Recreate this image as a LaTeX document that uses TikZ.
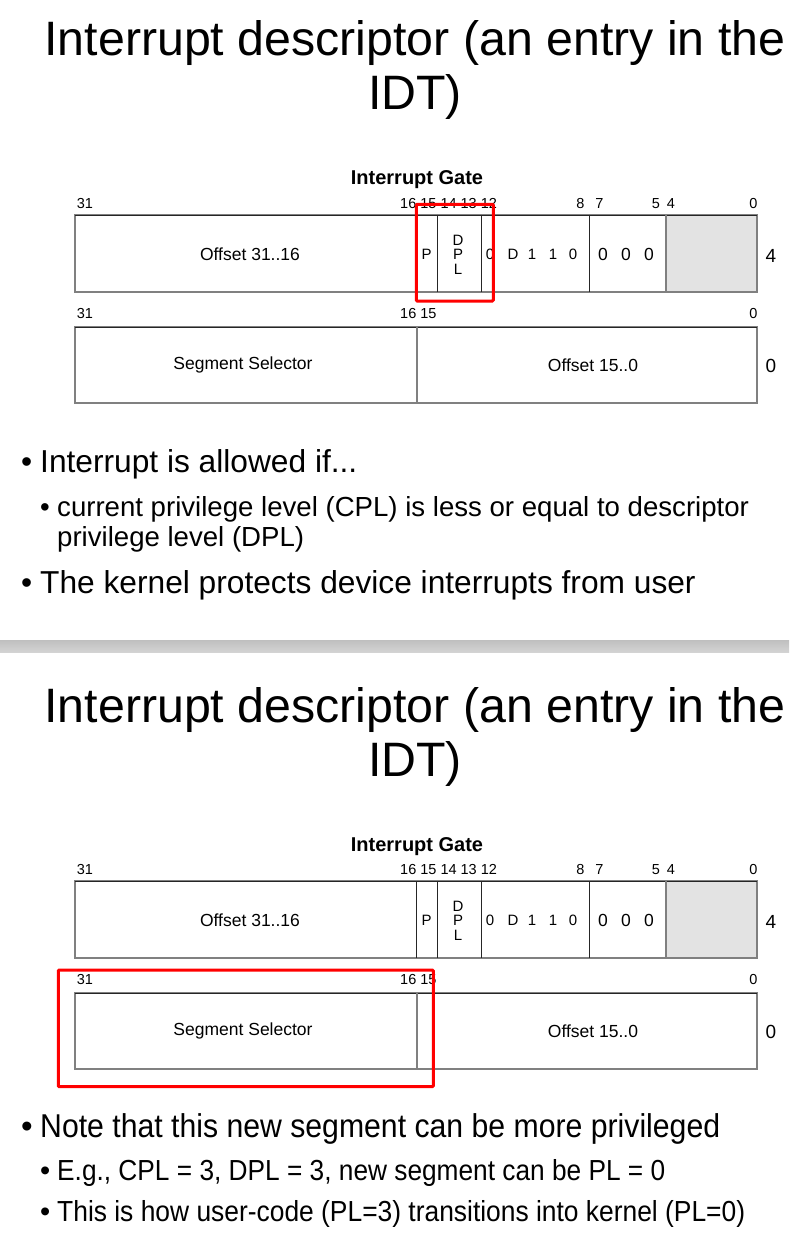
\documentclass[tikz,border=0pt]{standalone}
\usepackage{fontspec}
\setmainfont{Liberation Sans}
\usepackage{graphicx}
\definecolor{hilite}{RGB}{255,0,0}
\definecolor{cellgray}{RGB}{227,227,227}
\definecolor{edgegray}{RGB}{128,128,128}
\tikzset{
  slidetitle/.style={font=\fontsize{48.3}{54}\selectfont, anchor=base, inner sep=0},
  gatetitle/.style={font=\bfseries\fontsize{20}{22}\selectfont, anchor=base, inner sep=0},
  bitnum/.style={font=\fontsize{14.5}{16}\selectfont, anchor=base, inner sep=0},
  bitrun/.style={font=\fontsize{14.5}{16}\selectfont, anchor=base west, inner sep=0},
  field/.style={font=\fontsize{17.5}{19}\selectfont, inner sep=0},
  flagbit/.style={font=\fontsize{15}{17}\selectfont, inner sep=0},
  zerobit/.style={font=\fontsize{17.5}{19}\selectfont, inner sep=0},
  rowidx/.style={font=\fontsize{19}{21}\selectfont, inner sep=0},
  outline/.style={draw=edgegray, line width=1.3pt},
  topedge/.style={draw=black!85, line width=0.9pt},
  thindiv/.style={draw=black!85, line width=0.8pt},
  graydiv/.style={draw=edgegray, line width=1.4pt},
  highlight/.style={draw=hilite, line width=3pt, rounded corners=1pt},
  mainbullet/.style={font=\fontsize{31.7}{36}\selectfont, anchor=base west, inner sep=0},
  subbullet/.style={font=\fontsize{27.6}{31}\selectfont, anchor=base west, inner sep=0},
  mainbulletB/.style={font=\fontsize{33}{38}\selectfont, anchor=base west, inner sep=0},
  subbulletB/.style={font=\fontsize{29}{33}\selectfont, anchor=base west, inner sep=0},
}

% The interrupt gate layout: #1 = name suffix, #2 = vertical offset
\newcommand{\gatediagram}[2]{%
\begin{scope}[shift={(0,#2)}]
  \node[gatetitle] (gt#1) at (417,185) {Interrupt Gate};
  % upper doubleword
  \node[bitnum] (ua#1-1) at (85,208.5) {31};
  \node[bitrun] (ua#1-2) at (400,208.5) {16 15 14 13 12};
  \foreach \x/\t [count=\i from 3] in {580.5/8,599.5/7,656/5,671/4,753.5/0}
    \node[bitnum] (ua#1-\i) at (\x,208.5) {\t};
  \fill[cellgray] (666,215) rectangle (757,292);
  \draw[outline] (75,215) rectangle (757,292);
  \draw[topedge] (75,215) -- (757,215);
  \draw[thindiv] (416.7,215) -- (416.7,292);
  \draw[thindiv] (437.7,215) -- (437.7,292);
  \draw[thindiv] (481,215) -- (481,292);
  \draw[thindiv] (589,215) -- (589,292);
  \draw[graydiv] (666,215) -- (666,292);
  \node[field] (off1#1) at (250,254) {Offset 31..16};
  \node[flagbit] (p#1) at (426.5,254.5) {P};
  \node[flagbit] (d#1) at (458,240.5) {D};
  \node[flagbit] (pp#1) at (458,254.5) {P};
  \node[flagbit] (l#1) at (458,269) {L};
  \foreach \x/\t [count=\i] in {490/0,513/D,532/1,553/1,573/0}
    \node[flagbit] (ty#1-\i) at (\x,254.5) {\t};
  \foreach \x [count=\i] in {603,626,649}
    \node[zerobit] (z#1-\i) at (\x,254.5) {0};
  \node[rowidx] (r4#1) at (771,256) {4};
  % lower doubleword
  \node[bitnum] (la#1-1) at (85,318.5) {31};
  \node[bitrun] (la#1-2) at (400,318.5) {16 15};
  \node[bitnum] (la#1-3) at (753.5,318.5) {0};
  \draw[outline] (75,327) rectangle (757,403);
  \draw[topedge] (75,327) -- (757,327);
  \draw[graydiv] (417,327) -- (417,403);
  \node[field] (sel#1) at (243,365) {Segment Selector};
  \node[field] (off0#1) at (593,365) {Offset 15..0};
  \node[rowidx] (r0#1) at (771,366) {0};
\end{scope}}

\begin{document}
\begin{tikzpicture}[x=1pt,y=-1pt]
\useasboundingbox (0,0) rectangle (789,1238);
\fill[white] (0,0) rectangle (789,1238);

% ---- first slide ----
\node[slidetitle] (titleA1) at (415,56) {Interrupt descriptor (an entry in the};
\node[slidetitle] (titleA2) at (415,110) {IDT)};
\gatediagram{A}{0}
\draw[highlight] (416.3,204.3) rectangle (493.3,301);

\node[mainbullet] (ba1) at (21,472) {•};
\node[mainbullet] (ta1) at (40,472) {Interrupt is allowed if...};
\node[subbullet] (ba2) at (40,516) {•};
\node[subbullet] (ta2) at (57,516) {current privilege level (CPL) is less or equal to descriptor};
\node[subbullet] (ta3) at (57,546) {privilege level (DPL)};
\node[mainbullet] (ba4) at (21,593) {•};
\node[mainbullet] (ta4) at (40,593) {The kernel protects device interrupts from user};

% ---- divider between slides ----
\shade[top color=black!25, middle color=black!10, bottom color=black!17] (0,640) rectangle (789,652.3);

% ---- second slide ----
\node[slidetitle] (titleB1) at (415,722) {Interrupt descriptor (an entry in the};
\node[slidetitle] (titleB2) at (415,776) {IDT)};
\gatediagram{B}{666}
\draw[highlight] (58.3,970) rectangle (433.3,1086.7);

\node[mainbulletB] (bb1) at (21,1137) {•};
\node[mainbulletB] (tb1) at (40,1137) {\resizebox{680pt}{\height}{Note that this new segment can be more privileged}};
\node[subbulletB] (bb2) at (40,1180) {•};
\node[subbulletB] (tb2) at (57,1180) {\resizebox{608pt}{\height}{E.g., CPL = 3, DPL = 3, new segment can be PL = 0}};
\node[subbulletB] (bb3) at (40,1221) {•};
\node[subbulletB] (tb3) at (57,1221) {\resizebox{688pt}{\height}{This is how user-code (PL=3) transitions into kernel (PL=0)}};
\end{tikzpicture}
\end{document}
